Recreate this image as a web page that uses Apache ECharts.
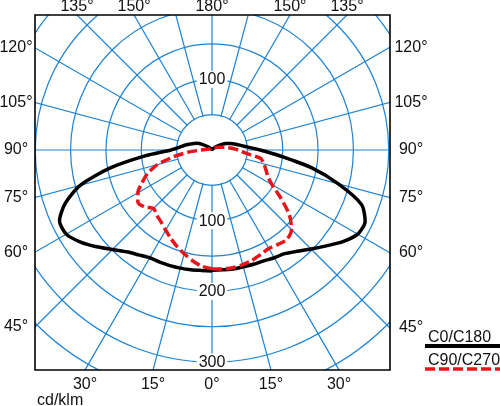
<!DOCTYPE html>
<html><head><meta charset="utf-8">
<script src="https://cdn.jsdelivr.net/npm/echarts@6/dist/echarts.min.js"></script>
<style>html,body{margin:0;padding:0;background:#fff}#c{width:500px;height:406px}</style>
</head><body><div id="c"></div><script>
// gamma angles (0 = nadir, 180 = zenith)
const gamma = [0,5,10,15,20,25,30,35,40,45,50,55,60,65,70,75,80,85,90,95,100,105,110,115,120,130,140,150,165,180];
// C0/C180 plane (black, solid): right half C0, left half C180  [cd/klm]
const c0   = [170,170,171,171,172,173,176,179,187,198,211,226,238,239,225,185,142,97,68,50,40,33,27,22,16,7,3,1,0,0];
const c180 = [171,171,172,173,174,175,176,181,188,199,213,227,238,238,221,193,146,95,58,46,39,32,27,23,16,7,3,1,0,0];
// C90/C270 plane (red, dashed): right half C90, left half C270
const c90  = [168,169,169,168,166,163,161,163,165,159,143,119,98,87,81,76,70,47,37,28,21,15,11,9,7,5,4,4,3,3];
const c270 = [168,165,159,152,145,138,131,125,121,117,125,128,121,109,97,80,55,33,15,9,6,5,4,4,3,3,3,3,3,3];
const seriesNames = ['C0/C180','C90/C270'];
const radiusLabels = [100,200,300];      // shown below the centre
const topRadiusLabels = [100];           // shown above the centre
const angleLabels = [0,15,30,45,60,75,90,105,120,135,150,180];
const unitLabel = 'cd/klm';

const FONT = '"Liberation Sans", Arial, sans-serif';
const GRID = '#1e82d2';
const cx = 212, cy = 150;
const box = {l:35, t:15, r:390, b:370};
const pxPerUnit = 0.707;
const rMax = 400, rInnerGrid = 50;

function loop(right, left){
  const pts = [];
  for (let i = 0; i < gamma.length; i++) pts.push([right[i], gamma[i]]);
  for (let i = gamma.length - 1; i >= 0; i--) pts.push([left[i], 360 - gamma[i]]);
  return pts;
}

const chart = echarts.init(document.getElementById('c'), null, {renderer:'canvas'});

const graphics = [];
// blank disc hiding the radial lines inside the innermost circle
graphics.push({type:'circle', shape:{cx:cx, cy:cy, r:rInnerGrid*pxPerUnit - 0.6}, style:{fill:'#fff'}, z:1, silent:true});
// white masks outside the frame
[[0,0,500,box.t],[0,box.b,500,406-box.b],[0,0,box.l,406],[box.r,0,500-box.r,406]].forEach(r=>{
  graphics.push({type:'rect', shape:{x:r[0],y:r[1],width:r[2],height:r[3]}, style:{fill:'#fff'}, z:100, silent:true});
});
graphics.push({type:'rect', shape:{x:box.l,y:box.t,width:box.r-box.l,height:box.b-box.t}, style:{fill:'none',stroke:'#000',lineWidth:1.6}, z:101, silent:true});

// angle labels placed where each labelled ray leaves the frame
angleLabels.forEach(g=>{
  const sides = (g === 0 || g === 180) ? [1] : [1,-1];
  sides.forEach(s=>{
    const rad = g*Math.PI/180;
    const dx = s*Math.sin(rad), dy = Math.cos(rad);
    let best = Infinity, edge = '';
    if (dy > 1e-9) { const t=(box.b-cy)/dy; if (t<best){best=t;edge='b';} }
    if (dy < -1e-9){ const t=(box.t-cy)/dy; if (t<best){best=t;edge='t';} }
    if (dx > 1e-9) { const t=(box.r-cx)/dx; if (t<best){best=t;edge='r';} }
    if (dx < -1e-9){ const t=(box.l-cx)/dx; if (t<best){best=t;edge='l';} }
    const hx = cx + dx*best, hy = cy + dy*best;
    let x, y;
    if (edge==='b'){ x=hx; y=385; }
    else if (edge==='t'){ x=hx; y=7; }
    else if (edge==='l'){ x=16; y=hy; }
    else { x=411; y=hy; }
    graphics.push({type:'text', x:x, y:y, z:102, silent:true,
      style:{text:g+'°', font:'16px '+FONT, fill:'#111', align:'center', verticalAlign:'middle'}});
  });
});

graphics.push({type:'text', x:37, y:401, z:102, style:{text:unitLabel, font:'16px '+FONT, fill:'#111', align:'left', verticalAlign:'middle'}});
// legend
graphics.push({type:'text', x:428, y:338, z:102, style:{text:seriesNames[0], font:'16px '+FONT, fill:'#111', align:'left', verticalAlign:'middle'}});
graphics.push({type:'line', shape:{x1:425,y1:346,x2:500,y2:346}, z:102, style:{stroke:'#000', lineWidth:4}});
graphics.push({type:'text', x:428, y:361, z:102, style:{text:seriesNames[1], font:'16px '+FONT, fill:'#111', align:'left', verticalAlign:'middle'}});
graphics.push({type:'line', shape:{x1:425,y1:369,x2:500,y2:369}, z:102, style:{stroke:'#e8141b', lineWidth:3.5, lineDash:[10,4]}});

const rOuter = rMax*pxPerUnit;
function radLabel(list){
  return {show:true, margin:0, align:'center', verticalAlign:'middle', color:'#111', fontSize:16, fontFamily:FONT,
    formatter: v => list.indexOf(v) >= 0 ? '{a|'+v+'}' : '',
    rich:{a:{backgroundColor:'#fff', padding:[1,2,0,2], fontSize:16, fontFamily:FONT, color:'#111'}}};
}

chart.setOption({
  animation:false,
  textStyle:{fontFamily:FONT},
  polar:[
    {center:[cx,cy], radius:[0, rOuter]},
    {center:[cx,cy], radius:[0, rOuter]}
  ],
  angleAxis:[
    {polarIndex:0, type:'value', min:0, max:360, interval:15, startAngle:270, clockwise:false, z:0,
     axisLine:{show:false}, axisTick:{show:false}, axisLabel:{show:false},
     splitLine:{show:true, lineStyle:{color:GRID, width:1.2}}},
    {polarIndex:1, type:'value', min:0, max:360, interval:15, startAngle:90, clockwise:false,
     axisLine:{show:false}, axisTick:{show:false}, axisLabel:{show:false}, splitLine:{show:false}}
  ],
  radiusAxis:[
    {polarIndex:0, type:'value', min:0, max:rMax, interval:50, z:3,
     axisLine:{show:false}, axisTick:{show:false},
     splitLine:{show:true, lineStyle:{color:GRID, width:1.2}},
     axisLabel:radLabel(radiusLabels)},
    {polarIndex:1, type:'value', min:0, max:rMax, interval:50, z:3,
     axisLine:{show:false}, axisTick:{show:false}, splitLine:{show:false},
     axisLabel:radLabel(topRadiusLabels)}
  ],
  series:[
    {type:'line', name:seriesNames[0], coordinateSystem:'polar', polarIndex:0, data:loop(c0,c180),
     symbol:'none', showSymbol:false, clip:false, smooth:0.25, z:5,
     lineStyle:{color:'#000', width:3.5}},
    {type:'line', name:seriesNames[1], coordinateSystem:'polar', polarIndex:0, data:loop(c90,c270),
     symbol:'none', showSymbol:false, clip:false, smooth:0.25, z:6,
     lineStyle:{color:'#e8141b', width:3.5, type:[10,4]}}
  ],
  graphic:{elements:graphics}
});
</script></body></html>
